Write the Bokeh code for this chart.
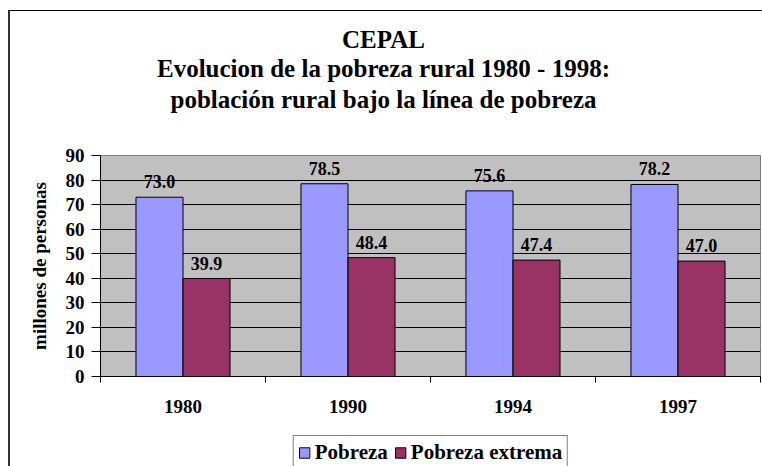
from bokeh.plotting import figure
from bokeh.layouts import column
from bokeh.models import (ColumnDataSource, FixedTicker, Label, Legend, LegendItem,
                          Range1d, LinearAxis)
from bokeh.core.properties import value
from bokeh.embed import file_html
from bokeh.resources import INLINE

years = ["1980", "1990", "1994", "1997"]
pobreza = [73.0, 78.5, 75.6, 78.2]
pobreza_extrema = [39.9, 48.4, 47.4, 47.0]
y_ticks = [0, 10, 20, 30, 40, 50, 60, 70, 80, 90]
series_names = ["Pobreza", "Pobreza extrema"]
title_lines = ["CEPAL",
               "Evolucion de la pobreza rural 1980 - 1998:",
               "población rural bajo la línea de pobreza"]

FONT = "Liberation Serif"
C_POB = "#9999FF"
C_EXT = "#993366"
W = 752

pos = [i + 0.5 for i in range(len(years))]
bw = 0.285
src1 = ColumnDataSource(dict(x=[p_ - bw / 2 for p_ in pos], top=pobreza,
                             lbl=[f"{v:.1f}" for v in pobreza]))
src2 = ColumnDataSource(dict(x=[p_ + bw / 2 for p_ in pos], top=pobreza_extrema,
                             lbl=[f"{v:.1f}" for v in pobreza_extrema]))

# ---------------- title block ----------------
pt = figure(width=W, height=134, output_backend="svg", toolbar_location=None,
            x_range=Range1d(0, 1), y_range=Range1d(0, 1),
            x_axis_location=None, y_axis_location=None,
            min_border=0, outline_line_color=None)
pt.grid.visible = False
for t, ty in zip(title_lines, [106, 77, 46]):
    pt.add_layout(Label(x=283, y=ty, x_units="screen", y_units="screen", text=t,
                        text_align="center", text_baseline="middle",
                        text_font=FONT, text_font_style="bold",
                        text_font_size="25px", text_color="black"))

# ---------------- main chart ----------------
p = figure(width=W, height=281, output_backend="svg", toolbar_location=None,
           x_range=Range1d(0, len(years)), y_range=Range1d(0, 90),
           x_axis_location=None, y_axis_location=None,
           min_border_left=90, min_border_right=2, min_border_top=10,
           min_border_bottom=50)
p.background_fill_color = "#C0C0C0"
p.outline_line_color = "#808080"
p.outline_line_width = 1
p.xgrid.visible = False
p.ygrid.ticker = FixedTicker(ticks=y_ticks[1:-1])
p.ygrid.grid_line_color = "black"
p.ygrid.grid_line_width = 1

p.vbar(x="x", top="top", width=bw, source=src1, fill_color=C_POB,
       line_color="black", line_width=1)
p.vbar(x="x", top="top", width=bw, source=src2, fill_color=C_EXT,
       line_color="black", line_width=1)

for s in (src1, src2):
    p.text(x="x", y="top", text="lbl", source=s, text_align="center",
           text_baseline="bottom", y_offset=-9, text_font=value(FONT),
           text_font_style="bold", text_font_size="18px", text_color="black")

yax = LinearAxis(ticker=FixedTicker(ticks=y_ticks))
yax.axis_label = "millones de personas"
yax.axis_label_text_font = FONT
yax.axis_label_text_font_style = "bold"
yax.axis_label_text_font_size = "19px"
yax.axis_label_text_color = "black"
yax.axis_label_standoff = 13
yax.major_label_text_font = FONT
yax.major_label_text_font_style = "bold"
yax.major_label_text_font_size = "19px"
yax.major_label_text_color = "black"
yax.major_tick_in = 0
yax.major_tick_out = 9
yax.major_label_standoff = 7
yax.minor_tick_line_color = None
yax.axis_line_color = "black"
p.add_layout(yax, "left")

xax = LinearAxis(ticker=FixedTicker(ticks=pos, minor_ticks=list(range(len(years) + 1))))
xax.major_label_overrides = {p_: y for p_, y in zip(pos, years)}
xax.major_label_text_font = FONT
xax.major_label_text_font_style = "bold"
xax.major_label_text_font_size = "19px"
xax.major_label_text_color = "black"
xax.major_tick_in = 0
xax.major_tick_out = 0
xax.major_label_standoff = 17
xax.minor_tick_in = 0
xax.minor_tick_out = 6
xax.minor_tick_line_color = "black"
xax.axis_line_color = "black"
p.add_layout(xax, "below")

# ---------------- legend strip ----------------
# the strip's renderers carry the same series but lie far outside its visible
# ranges, so only their legend swatches show
pl = figure(width=W, height=40, output_backend="svg", toolbar_location=None,
            x_range=Range1d(1000, 1001), y_range=Range1d(1000, 1001),
            x_axis_location=None, y_axis_location=None,
            min_border_left=90, min_border_right=2, min_border_top=0,
            min_border_bottom=0, outline_line_color=None)
pl.grid.visible = False
lr1 = pl.vbar(x="x", top="top", width=bw, source=src1, fill_color=C_POB,
              line_color="black")
lr2 = pl.vbar(x="x", top="top", width=bw, source=src2, fill_color=C_EXT,
              line_color="black")
legend = Legend(items=[LegendItem(label=series_names[0], renderers=[lr1]),
                       LegendItem(label=series_names[1], renderers=[lr2])],
                orientation="horizontal", location="top_center",
                label_text_font=FONT, label_text_font_style="bold",
                label_text_font_size="21px", label_text_color="black",
                glyph_width=13, glyph_height=13,
                spacing=6, padding=4, margin=9, label_standoff=4,
                border_line_color="black", border_line_width=1,
                background_fill_color="white", background_fill_alpha=1)
pl.add_layout(legend, "center")

layout = column(pt, p, pl, spacing=0)
layout.styles = {"margin-left": "8px", "margin-top": "10px",
                 "border-left": "2px solid #333", "border-top": "1px solid black"}

open("out.html", "w").write(file_html(layout, INLINE))
